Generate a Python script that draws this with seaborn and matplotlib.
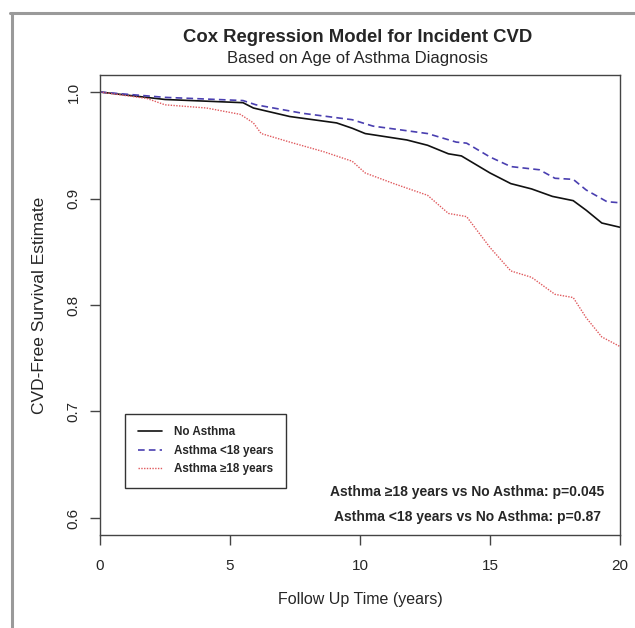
import pandas as pd
import numpy as np
import matplotlib.pyplot as plt
import seaborn as sns
from matplotlib.lines import Line2D

# follow up time (years) and survival estimates
t_none = [0, 2.5, 5.5, 5.9, 7.3, 9.1, 9.7, 10.2, 11.8, 12.6, 13.4, 13.9, 15.0, 15.8, 16.6, 17.4, 18.2, 18.7, 19.3, 20]
s_none = [1.0, 0.993, 0.990, 0.985, 0.977, 0.971, 0.966, 0.961, 0.955, 0.950, 0.942, 0.940, 0.924, 0.914, 0.909, 0.902, 0.898, 0.889, 0.877, 0.873]

t_young = [0, 2.5, 5.5, 6.0, 7.8, 9.7, 10.5, 12.6, 13.7, 14.1, 15.0, 15.8, 16.9, 17.5, 18.2, 18.7, 19.5, 20]
s_young = [1.0, 0.995, 0.992, 0.988, 0.980, 0.974, 0.968, 0.961, 0.953, 0.952, 0.939, 0.930, 0.927, 0.919, 0.918, 0.908, 0.897, 0.896]

t_adult = [0, 1.8, 2.5, 4.1, 5.4, 5.9, 6.2, 7.3, 8.6, 9.7, 10.2, 11.3, 12.6, 13.4, 14.1, 15.0, 15.8, 16.6, 17.5, 18.2, 18.7, 19.3, 20]
s_adult = [1.0, 0.994, 0.988, 0.985, 0.979, 0.971, 0.961, 0.953, 0.944, 0.935, 0.924, 0.914, 0.903, 0.886, 0.883, 0.854, 0.832, 0.826, 0.810, 0.807, 0.788, 0.770, 0.761]

groups = ['No Asthma', 'Asthma <18 years', 'Asthma \u226518 years']
y_ticks = [0.6, 0.7, 0.8, 0.9, 1.0]
x_ticks = [0, 5, 10, 15, 20]
p_texts = ['Asthma \u226518 years vs No Asthma: p=0.045',
           'Asthma <18 years vs No Asthma: p=0.87']

sns.set_style('white')
plt.rcParams['font.family'] = ['Liberation Sans', 'DejaVu Sans']

fig = plt.figure(figsize=(6.35, 6.28), dpi=100)
ax = fig.add_axes([100 / 635, 1 - 535 / 628, 520 / 635, 460 / 628])

styles = [('#111111', '-', 1.2), ('#4a3fb0', (0, (4, 2.5)), 1.2), ('#e05a5e', (0, (1, 1)), 1.0)]
data = [(t_none, s_none), (t_young, s_young), (t_adult, s_adult)]
for (t, s), (c, ls, lw), g in zip(data, styles, groups):
    df = pd.DataFrame({'time': t, 'surv': s})
    sns.lineplot(data=df, x='time', y='surv', ax=ax, color=c, linestyle=ls,
                 linewidth=lw, label=g)

ax.set_xlim(0, 20)
ax.set_ylim(0.584, 1.016)
ax.set_xticks(x_ticks)
ax.set_yticks(y_ticks)
ax.set_yticklabels(['%.1f' % v for v in y_ticks], rotation=90, va='center')
ax.tick_params(axis='x', length=7, width=1, color='#444444', pad=10, labelsize=11)
ax.tick_params(axis='y', length=7, width=1, color='#444444', pad=7, labelsize=11)
ax.tick_params(left=True, bottom=True)
for sp in ax.spines.values():
    sp.set_color('#444444')
    sp.set_linewidth(1)

ax.set_xlabel('Follow Up Time (years)', fontsize=11.5, labelpad=14)
ax.set_ylabel('CVD-Free Survival Estimate', fontsize=12.5, labelpad=14)

fig.text(0.5 + 40 / 635, 1 - 38 / 628, 'Cox Regression Model for Incident CVD',
         ha='center', va='center', fontsize=13.3, fontweight='bold')
fig.text(0.5 + 40 / 635, 1 - 59 / 628, 'Based on Age of Asthma Diagnosis',
         ha='center', va='center', fontsize=12)

leg = ax.legend(loc='lower left', bbox_to_anchor=(0.048, 0.102), borderaxespad=0,
                frameon=True, fancybox=False, edgecolor='#333333', framealpha=1,
                prop={'size': 8.4, 'weight': 'bold'}, handlelength=2.1,
                borderpad=1.1, labelspacing=0.55, handletextpad=1.0)
leg.get_frame().set_linewidth(1)

ax.text(0.706, 0.0935, p_texts[0], transform=ax.transAxes, ha='center', va='center',
        fontsize=10, fontweight='bold')
ax.text(0.706, 0.039, p_texts[1], transform=ax.transAxes, ha='center', va='center',
        fontsize=10, fontweight='bold')

# grey page frame
fig.add_artist(Line2D([12 / 635, 12 / 635], [0, 1 - 13 / 628], color='#9a9a9a', linewidth=2.2))
fig.add_artist(Line2D([10 / 635, 1], [1 - 13 / 628, 1 - 13 / 628], color='#9a9a9a', linewidth=2.2))

fig.savefig('out.png', dpi=100)
